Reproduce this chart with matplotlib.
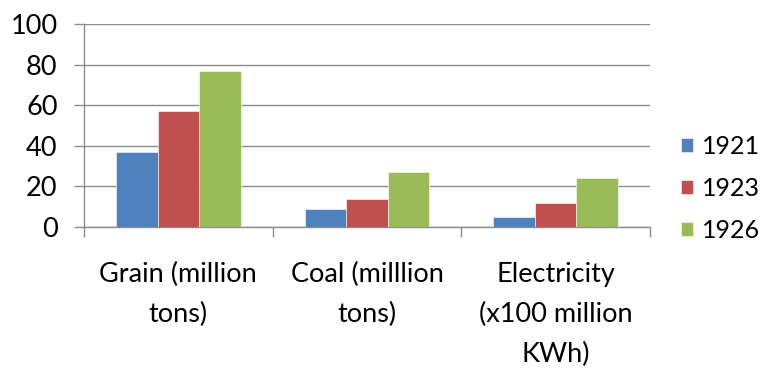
import numpy as np
import matplotlib.pyplot as plt

plt.rcParams['font.family'] = ['Lato', 'DejaVu Sans']

categories = ['Grain (million\ntons)', 'Coal (milllion\ntons)', 'Electricity\n(x100 million\nKWh)']
years = ['1921', '1923', '1926']
v1921 = [37, 9, 5]
v1923 = [57, 14, 12]
v1926 = [77, 27, 24]
colors = ['#4F81BD', '#C0504D', '#9BBB59']

fig = plt.figure(figsize=(7.65, 3.7), dpi=100)
ax = fig.add_axes([0.1098, 0.3865, 0.7399, 0.5485])

x = np.arange(len(categories))
w = 0.22
for i, (vals, yr) in enumerate(zip([v1921, v1923, v1926], years)):
    ax.bar(x + (i - 1) * w, vals, w, color=colors[i], label=yr,
           edgecolor='white', linewidth=0.4, zorder=3)

ax.set_xlim(-0.5, 2.5)
ax.set_ylim(0, 100)
ax.set_yticks(range(0, 101, 20))
ax.yaxis.grid(True, color='#8c8c8c', linewidth=1.0, zorder=0)

ax.set_xticks(x)
ax.set_xticklabels(categories, fontsize=19.5, linespacing=1.75, va='top')
ax.set_xticks([-0.5, 0.5, 1.5, 2.5], minor=True)
ax.tick_params(axis='x', which='major', length=0, pad=25)
ax.tick_params(axis='x', which='minor', length=7, color='#8c8c8c', width=1)
ax.tick_params(axis='y', length=7, color='#8c8c8c', width=1, pad=12, labelsize=19.5)

for s in ['top', 'right']:
    ax.spines[s].set_visible(False)
for s in ['left', 'bottom']:
    ax.spines[s].set_color('#8c8c8c')
    ax.spines[s].set_linewidth(1)

ax.legend(loc='center left', bbox_to_anchor=(1.055, 0.19), frameon=False,
          fontsize=18, handlelength=0.48, handleheight=0.48, handletextpad=0.35,
          labelspacing=0.75, borderpad=0, borderaxespad=0)

fig.savefig('out.png', dpi=100)
